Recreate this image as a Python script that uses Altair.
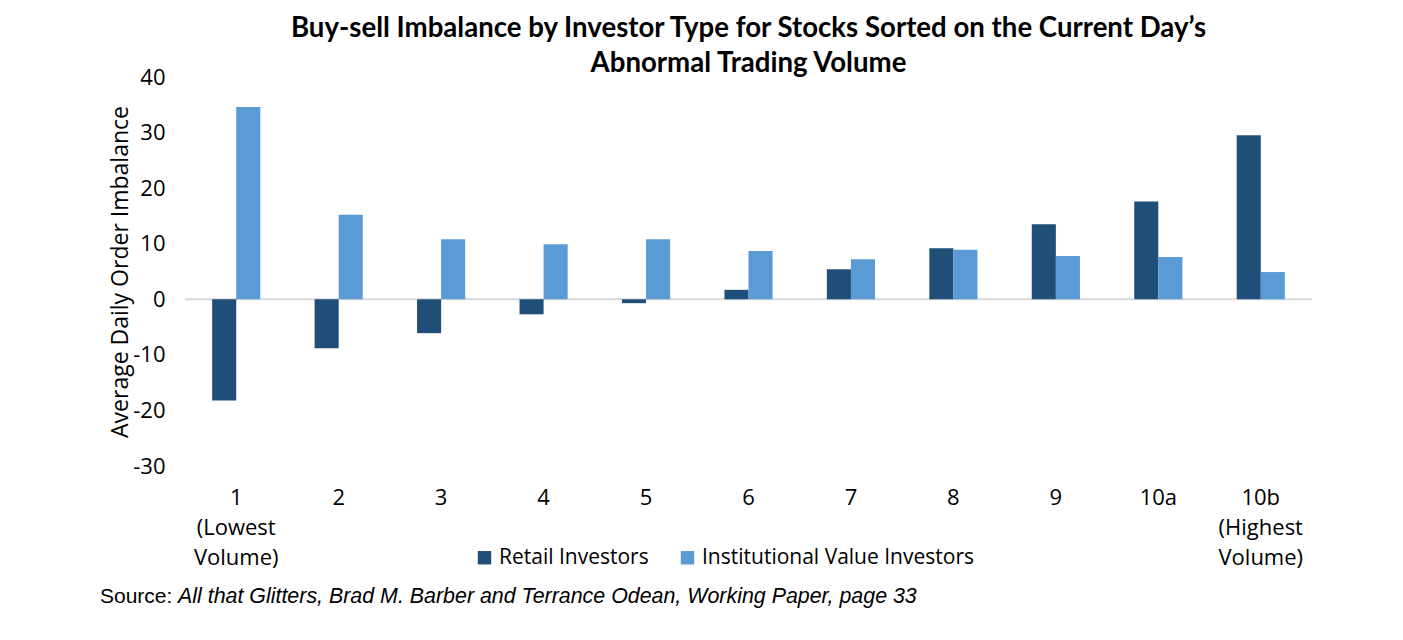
import altair as alt
import pandas as pd

categories = ["1\n(Lowest\nVolume)", "2", "3", "4", "5", "6", "7", "8", "9", "10a", "10b\n(Highest\nVolume)"]
retail = [-18.2, -8.8, -6.1, -2.7, -0.7, 1.7, 5.4, 9.2, 13.5, 17.6, 29.5]
institutional = [34.6, 15.2, 10.8, 9.9, 10.8, 8.7, 7.2, 8.9, 7.8, 7.6, 4.9]
series = ["Retail Investors", "Institutional Value Investors"]
colors = ["#1F4E79", "#5B9BD5"]

rows = []
for c, r, i in zip(categories, retail, institutional):
    rows.append({"cat": c, "series": series[0], "value": r})
    rows.append({"cat": c, "series": series[1], "value": i})
df = pd.DataFrame(rows)

FONT = "Open Sans"
TFONT = "Lato"

bars = alt.Chart(df).mark_bar().encode(
    x=alt.X("cat:N", sort=categories,
            scale=alt.Scale(paddingInner=0.53, paddingOuter=0.265),
            axis=alt.Axis(title=None, labelAngle=0, domain=False, ticks=False,
                          labelExpr="split(datum.value, '\\n')",
                          labelFont=FONT, labelFontSize=22, labelColor="#000000",
                          labelPadding=31, labelLineHeight=30, labelBaseline="middle")),
    xOffset=alt.XOffset("series:N", sort=series),
    y=alt.Y("value:Q", scale=alt.Scale(domain=[-30, 40], nice=False),
            axis=alt.Axis(values=[-30, -20, -10, 0, 10, 20, 30, 40], grid=False, domain=False,
                          ticks=False, title="Average Daily Order Imbalance",
                          labelExpr="toString(datum.value)",
                          titleFont=FONT, titleFontSize=23, titleFontWeight="normal",
                          titleColor="#000000", titlePadding=0,
                          labelFont=FONT, labelFontSize=22, labelColor="#000000",
                          labelPadding=20)),
    color=alt.Color("series:N", sort=series,
                    scale=alt.Scale(domain=series, range=colors),
                    legend=alt.Legend(title=None, orient="none", direction="horizontal",
                                      legendX=289, legendY=470,
                                      symbolType="square", symbolSize=180,
                                      symbolStrokeWidth=0, labelLimit=0,
                                      labelFont=FONT, labelFontSize=21,
                                      labelColor="#000000", columnPadding=28,
                                      labelOffset=4)),
)

zero = alt.Chart(pd.DataFrame({"z": [0]})).mark_rule(color="#D9D9D9", strokeWidth=2).encode(
    y="z:Q"
)

src1 = alt.Chart(pd.DataFrame({"t": ["Source:"]})).mark_text(
    font="Liberation Sans", fontSize=21, align="left", baseline="middle", color="#000000"
).encode(x=alt.value(-85), y=alt.value(520), text="t:N")

src2 = alt.Chart(pd.DataFrame({"t": ["All that Glitters, Brad M. Barber and Terrance Odean, Working Paper, page 33"]})).mark_text(
    font="Liberation Sans", fontSize=21.4, fontStyle="italic", align="left", baseline="middle", color="#000000"
).encode(x=alt.value(-7), y=alt.value(520), text="t:N")

chart = alt.layer(zero, bars, src1, src2).properties(
    width=1127, height=389,
    background="white",
    padding={"left": 177, "top": 69, "right": 80, "bottom": 150},
    autosize=alt.AutoSizeParams(type="none"),
    title=alt.TitleParams(
        ["Buy-sell Imbalance by Investor Type for Stocks Sorted on the Current Day\u2019s",
         "Abnormal Trading Volume"],
        font=TFONT, fontSize=27.6, fontWeight="bold", color="#000000",
        anchor="middle", lineHeight=35, offset=-12),
).configure_view(strokeWidth=0, stroke="transparent")

chart.save("out.html", embed_options={"renderer": "svg", "actions": False})
